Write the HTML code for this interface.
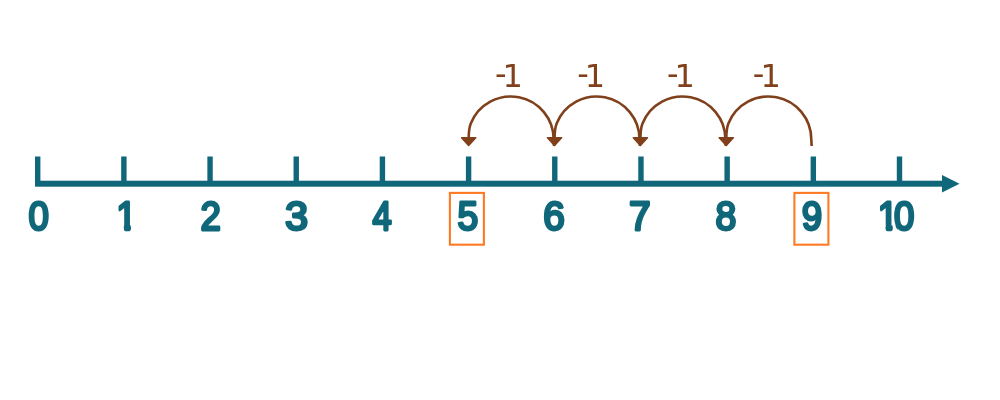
<!DOCTYPE html>
<html>
<head>
<meta charset="utf-8">
<title>Number line</title>
<style>
  html, body { margin: 0; padding: 0; background: #ffffff; }
  body { width: 1000px; height: 400px; overflow: hidden; }
  svg { display: block; will-change: transform; }
  .num { font-family: "Liberation Sans", sans-serif; font-weight: normal; font-size: 40.7px; fill: #11677a; stroke: #11677a; stroke-width: 2.8; stroke-linejoin: round; stroke-linecap: round; text-anchor: middle; }
  .lab { font-family: "DejaVu Sans", "Liberation Sans", sans-serif; font-size: 32px; fill: #80401b; text-anchor: middle; letter-spacing: -4px; }
</style>
</head>
<body>
<svg width="1000" height="400" viewBox="0 0 1000 400">
  <rect x="0" y="0" width="1000" height="400" fill="#ffffff"/>
  <!-- axis -->
  <g fill="#11677a">
    <rect x="35" y="180.7" width="908" height="6"/>
    <polygon points="942,175 959.5,183.7 942,192.5"/>
    <rect x="35.00" y="156.5" width="5.4" height="27"/>
    <rect x="121.18" y="156.5" width="5.4" height="27"/>
    <rect x="207.36" y="156.5" width="5.4" height="27"/>
    <rect x="293.54" y="156.5" width="5.4" height="27"/>
    <rect x="379.72" y="156.5" width="5.4" height="27"/>
    <rect x="465.90" y="156.5" width="5.4" height="27"/>
    <rect x="552.08" y="156.5" width="5.4" height="27"/>
    <rect x="638.26" y="156.5" width="5.4" height="27"/>
    <rect x="724.44" y="156.5" width="5.4" height="27"/>
    <rect x="810.62" y="156.5" width="5.4" height="27"/>
    <rect x="896.80" y="156.5" width="5.4" height="27"/>
  </g>
  <!-- hops -->
  <g fill="none" stroke="#80401b" stroke-width="2.6">
    <path d="M811.66,146 L811.31,139.5 A43,43 0 0 0 728.5,123.25 C726.72,127.6 726.31,132.5 726.31,138.5"/>
    <path d="M725.79,146 L725.44,139.5 A43,43 0 0 0 642.63,123.25 C640.85,127.6 640.44,132.5 640.44,138.5"/>
    <path d="M639.92,146 L639.57,139.5 A43,43 0 0 0 556.76,123.25 C554.98,127.6 554.57,132.5 554.57,138.5"/>
    <path d="M554.05,146 L553.7,139.5 A43,43 0 0 0 470.89,123.25 C469.11,127.6 468.7,132.5 468.7,138.5"/>
  </g>
  <g fill="#80401b" stroke="#80401b" stroke-width="1.6" stroke-linejoin="round">
    <polygon points="719.21,137.8 733.31,137.8 726.26,145.4"/>
    <polygon points="633.34,137.8 647.44,137.8 640.39,145.4"/>
    <polygon points="547.47,137.8 561.57,137.8 554.52,145.4"/>
    <polygon points="461.6,137.8 475.7,137.8 468.65,145.4"/>
  </g>
  <text class="lab" x="507" y="87"><tspan dy="-1.8">-</tspan><tspan dy="1.8">1</tspan></text>
  <text class="lab" x="589.2" y="87"><tspan dy="-1.8">-</tspan><tspan dy="1.8">1</tspan></text>
  <text class="lab" x="679" y="87"><tspan dy="-1.8">-</tspan><tspan dy="1.8">1</tspan></text>
  <text class="lab" x="764.8" y="87"><tspan dy="-1.8">-</tspan><tspan dy="1.8">1</tspan></text>
  <!-- highlight boxes -->
  <rect x="449.9" y="192.9" width="34" height="51.8" fill="none" stroke="#ff7a24" stroke-width="2.1"/>
  <rect x="794.4" y="192.9" width="34" height="51.8" fill="none" stroke="#ff7a24" stroke-width="2.1"/>
  <!-- numbers -->
  <defs>
    <clipPath id="clip1"><rect x="100" y="189.6" width="50" height="35.3"/><rect x="123.9" y="220" width="6.9" height="11.6" rx="3.2" ry="3.2"/></clipPath>
    <clipPath id="clip10"><rect x="860" y="189.6" width="80" height="35.3"/><rect x="885.7" y="220" width="6.9" height="11.6" rx="3.2" ry="3.2"/><rect x="893.4" y="198.4" width="22.6" height="35.0" rx="11.3" ry="17.5"/></clipPath>
  </defs>
  <text class="num" transform="translate(38.70,230.1) scale(0.9,1)" x="0" y="0">0</text>
  <g clip-path="url(#clip1)"><text class="num" transform="translate(126.55,230.1) scale(0.9,1)" x="0" y="0">1</text></g>
  <text class="num" transform="translate(210.65,230.1) scale(0.9,1)" x="0" y="0">2</text>
  <text class="num" transform="translate(296.60,230.1) scale(1.02,1)" x="0" y="0">3</text>
  <text class="num" transform="translate(382.20,230.1) scale(0.85,1)" x="0" y="0">4</text>
  <text class="num" transform="translate(467.95,230.1) scale(0.915,1)" x="0" y="0">5</text>
  <text class="num" transform="translate(554.05,230.1) scale(0.955,1)" x="0" y="0">6</text>
  <text class="num" transform="translate(639.90,230.1) scale(0.957,1)" x="0" y="0">7</text>
  <text class="num" transform="translate(725.90,230.1) scale(0.92,1)" x="0" y="0">8</text>
  <text class="num" transform="translate(812.00,230.1) scale(0.9,1)" x="0" y="0">9</text>
  <g clip-path="url(#clip10)"><text class="num" transform="translate(898.25,230.1) scale(0.9,1)" x="-11.45 6.7" y="0">10</text></g>
</svg>
</body>
</html>
